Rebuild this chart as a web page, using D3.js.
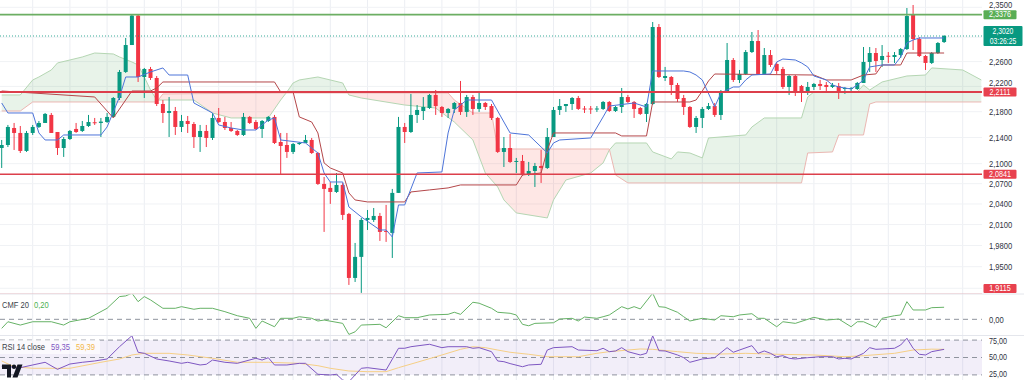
<!DOCTYPE html>
<html><head><meta charset="utf-8">
<script src="https://cdn.jsdelivr.net/npm/d3@7"></script>
<style>html,body{margin:0;padding:0;background:#fff;}svg{display:block;font-family:"Liberation Sans",Arial,sans-serif;}</style>
</head><body><svg id="c" width="1024" height="380"></svg>
<script>
// ---------- DATA ----------
const opens=[2.1238,2.1284,2.1546,2.1469,2.1193,2.1469,2.1562,2.1624,2.1749,2.1484,
2.1238,2.1376,2.1531,2.1500,2.1577,2.1635,2.1624,2.1639,2.1718,2.2016,
2.2432,2.2871,2.3360,2.2351,2.2480,2.2335,2.1921,2.1780,2.1811,2.1562,
2.1655,2.1608,2.1407,2.1500,2.1392,2.1702,2.1639,2.1546,2.1500,2.1438,
2.1718,2.1639,2.1531,2.1655,2.1718,2.1330,2.1284,2.1178,2.1299,2.1315,
2.1361,2.1162,2.0696,2.0637,2.0577,2.0681,2.0254,1.9343,1.9638,2.0167,
2.0167,2.0225,2.0008,1.9980,2.0563,2.1562,2.1484,2.1749,2.1811,2.1858,
2.2064,2.1874,2.1780,2.1843,2.1937,2.1796,2.2031,2.1843,2.1937,2.1889,
2.1702,2.1178,2.1238,2.1026,2.1041,2.0845,2.0890,2.0965,2.0935,2.1407,
2.1827,2.1889,2.1921,2.2016,2.1850,2.1850,2.1843,2.1843,2.1953,2.1811,
2.1874,2.2031,2.1953,2.1858,2.1765,2.1921,2.3169,2.2335,2.2351,2.2223,
2.2016,2.1874,2.1562,2.1702,2.1843,2.1889,2.1749,2.2096,2.2626,2.2303,
2.2400,2.2756,2.2937,2.2400,2.2707,2.2561,2.2480,2.2191,2.2367,2.2207,
2.2096,2.2191,2.2239,2.2223,2.2191,2.2207,2.2159,2.2159,2.2159,2.2255,
2.2594,2.2740,2.2626,2.2695,2.2675,2.2707,2.2805,2.3370,2.2970,2.2691,
2.2578,2.2740,2.2920];
const highs=[2.1361,2.1593,2.1624,2.1577,2.1500,2.1593,2.1655,2.1780,2.1780,2.1484,
2.1407,2.1515,2.1624,2.1655,2.1749,2.1702,2.1702,2.1780,2.2031,2.2464,
2.2987,2.3376,2.3376,2.2497,2.2513,2.2367,2.1984,2.2031,2.1874,2.1749,
2.1733,2.1639,2.1593,2.1593,2.1780,2.1858,2.1718,2.1639,2.1515,2.1780,
2.1733,2.1670,2.1670,2.1733,2.1749,2.1469,2.1469,2.1315,2.1330,2.1438,
2.1392,2.1178,2.0800,2.0725,2.0860,2.0711,2.0269,1.9836,2.0196,2.0312,
2.0341,2.0269,2.0386,2.0622,2.1718,2.1624,2.2080,2.1905,2.2031,2.2080,
2.2143,2.1889,2.1858,2.1953,2.2287,2.2064,2.2064,2.2096,2.1953,2.1921,
2.1718,2.1407,2.1453,2.1087,2.1132,2.1026,2.1011,2.1208,2.1546,2.1874,
2.2000,2.1921,2.2031,2.2048,2.1889,2.1889,2.1889,2.1968,2.1968,2.1889,
2.2175,2.2064,2.1968,2.1874,2.1937,2.3253,2.3219,2.2513,2.2367,2.2255,
2.2064,2.1889,2.1733,2.1874,2.1937,2.1937,2.2143,2.2904,2.2658,2.2464,
2.2789,2.3086,2.3119,2.2822,2.2789,2.2594,2.2513,2.2383,2.2383,2.2223,
2.2271,2.2255,2.2303,2.2271,2.2255,2.2255,2.2191,2.2191,2.2271,2.2838,
2.2838,2.2822,2.2871,2.2756,2.2756,2.2822,2.3488,2.3539,2.3003,2.2707,
2.2756,2.2920,2.3036];
const lows=[2.0935,2.1253,2.1208,2.1162,2.1178,2.1438,2.1546,2.1624,2.1469,2.1132,
2.1102,2.1361,2.1469,2.1484,2.1562,2.1593,2.1407,2.1624,2.1718,2.1984,
2.2416,2.2871,2.2271,2.2016,2.2303,2.1889,2.1624,2.1407,2.1438,2.1484,
2.1469,2.1238,2.1178,2.1253,2.1361,2.1624,2.1515,2.1484,2.1423,2.1423,
2.1608,2.1515,2.1392,2.1639,2.1299,2.0845,2.1087,2.1147,2.1284,2.1315,
2.1147,2.0681,1.9994,2.0401,2.0563,2.0167,1.9246,1.9287,1.9136,2.0022,
2.0138,1.9865,1.9851,1.9623,2.0563,2.1315,2.1469,2.1624,2.1670,2.1843,
2.1749,2.1718,2.1702,2.1780,2.1749,2.1718,2.1749,2.1796,2.1827,2.1670,
2.1162,2.0950,2.1011,2.0860,2.0815,2.0815,2.0651,2.0711,2.0920,2.1407,
2.1749,2.1796,2.1827,2.1827,2.1780,2.1765,2.1796,2.1827,2.1796,2.1796,
2.1780,2.1937,2.1702,2.1749,2.1639,2.1905,2.2335,2.2287,2.2064,2.1953,
2.1749,2.1546,2.1469,2.1546,2.1827,2.1718,2.1670,2.2096,2.2271,2.2255,
2.2383,2.2740,2.2383,2.2383,2.2513,2.2400,2.2159,2.2064,2.2048,2.1953,
2.2064,2.2143,2.2143,2.2096,2.2175,2.2000,2.2080,2.2096,2.2143,2.2255,
2.2432,2.2432,2.2513,2.2578,2.2578,2.2658,2.2789,2.2789,2.2675,2.2464,
2.2561,2.2724,2.2904];
const closes=[2.1284,2.1562,2.1469,2.1193,2.1469,2.1562,2.1624,2.1765,2.1469,2.1238,
2.1376,2.1500,2.1484,2.1577,2.1639,2.1630,2.1645,2.1718,2.2016,2.2432,
2.2871,2.3360,2.2351,2.2480,2.2335,2.1921,2.1780,2.1811,2.1562,2.1655,
2.1608,2.1407,2.1500,2.1392,2.1702,2.1639,2.1546,2.1500,2.1438,2.1718,
2.1624,2.1531,2.1655,2.1718,2.1315,2.1269,2.1178,2.1299,2.1315,2.1361,
2.1162,2.0696,2.0622,2.0577,2.0681,2.0240,1.9343,1.9638,2.0167,2.0196,
2.0225,1.9994,1.9994,2.0563,2.1562,2.1484,2.1749,2.1827,2.1874,2.2064,
2.1889,2.1780,2.1843,2.1937,2.1796,2.2031,2.1843,2.1937,2.1874,2.1702,
2.1178,2.1238,2.1026,2.1041,2.0830,2.0890,2.0965,2.0935,2.1407,2.1827,
2.1889,2.1921,2.2016,2.1843,2.1843,2.1843,2.1850,2.1953,2.1811,2.1874,
2.2031,2.1953,2.1843,2.1765,2.1921,2.3169,2.2351,2.2367,2.2223,2.2000,
2.1874,2.1562,2.1702,2.1843,2.1889,2.1749,2.2096,2.2626,2.2303,2.2400,
2.2756,2.2937,2.2400,2.2707,2.2545,2.2448,2.2191,2.2367,2.2127,2.2112,
2.2191,2.2239,2.2207,2.2191,2.2223,2.2112,2.2175,2.2175,2.2255,2.2594,
2.2740,2.2610,2.2691,2.2691,2.2707,2.2805,2.3353,2.2970,2.2691,2.2578,
2.2740,2.2904,2.3020];

// Ichimoku lines: [bar index, price]
const tenkan=[[0,2.1937],[1,2.1780],[5,2.1780],[6,2.1469],[7,2.1361],[9,2.1361],[10,2.1438],[16,2.1438],[17,2.1562],[19,2.2032],[20,2.2351],[22,2.2351],[24,2.2432],[26,2.2497],[27,2.2383],[30,2.2383],[31,2.1937],[34,2.1780],[35,2.1593],[37,2.1546],[39,2.1515],[41,2.1515],[42,2.1593],[43,2.1670],[44,2.1702],[45,2.1361],[49,2.1315],[51,2.1162],[52,2.0860],[53,2.0725],[55,2.0725],[56,2.0356],[58,2.0211],[61,2.0022],[62,2.0022],[63,1.9922],[64,2.0386],[65,2.0386],[67,2.0860],[71,2.0875],[72,2.1469],[73,2.1827],[75,2.1984],[79,2.1984],[81,2.1639],[82,2.1469],[85,2.1438],[87,2.1254],[88,2.1162],[89,2.1315],[90,2.1361],[95,2.1392],[97,2.1718],[98,2.1889],[102,2.1937],[104,2.1874],[105,2.2448],[110,2.2448],[111,2.2432],[112,2.2383],[113,2.2303],[115,2.1874],[116,2.2096],[118,2.2191],[119,2.2191],[120,2.2303],[121,2.2383],[124,2.2400],[125,2.2594],[126,2.2642],[128,2.2626],[129,2.2578],[130,2.2513],[131,2.2367],[133,2.2303],[134,2.2223],[135,2.2191],[137,2.2159],[138,2.2223],[139,2.2303],[140,2.2513],[142,2.2545],[144,2.2545],[145,2.2675],[146,2.2904],[147,2.2954],[148,2.2987],[152,2.2987]];
const kijun=[[0,2.2127],[15,2.2032],[18,2.1702],[21,2.2127],[24,2.2127],[25,2.2175],[26,2.2271],[44,2.2271],[45,2.2111],[47,2.2111],[48,2.1718],[50,2.1639],[51,2.1469],[52,2.1011],[53,2.0935],[55,2.0860],[56,2.0563],[57,2.0459],[59,2.0430],[65,2.0430],[66,2.0577],[69,2.0607],[72,2.0637],[74,2.0681],[83,2.0681],[84,2.0830],[87,2.0860],[88,2.1208],[89,2.1469],[99,2.1469],[100,2.1423],[104,2.1423],[105,2.1953],[111,2.1953],[112,2.1984],[113,2.2127],[114,2.2287],[115,2.2399],[131,2.2383],[133,2.2303],[137,2.2303],[139,2.2383],[141,2.2400],[142,2.2545],[145,2.2545],[146,2.2740],[152,2.2740]];
const spanA=[[0,2.2064],[3,2.2064],[5,2.2303],[6,2.2351],[8,2.2464],[9,2.2578],[11,2.2626],[13,2.2675],[15,2.2740],[18,2.2724],[19,2.2675],[21,2.2594],[22,2.2545],[23,2.2351],[24,2.2143],[25,2.1984],[31,2.1984],[34,2.1780],[37,2.1702],[43,2.1702],[45,2.1984],[46,2.2111],[47,2.2255],[48,2.2303],[51,2.2351],[53,2.2303],[55,2.2255],[56,2.2064],[58,2.2016],[65,2.1905],[70,2.1858],[73,2.1639],[76,2.1361],[78,2.0860],[80,2.0651],[81,2.0459],[83,2.0269],[88,2.0196],[89,2.0459],[91,2.0755],[95,2.0860],[97,2.1011],[98,2.1208],[99,2.1315],[104,2.1315],[105,2.1178],[108,2.1071],[109,2.1178],[111,2.1162],[113,2.1087],[114,2.1392],[120,2.1438],[121,2.1562],[123,2.1702],[129,2.1702],[130,2.2032],[131,2.2111],[138,2.2111],[139,2.2223],[140,2.2143],[142,2.2271],[146,2.2367],[149,2.2383],[150,2.2497],[155,2.2464],[158,2.2303]];
const spanB=[[0,2.1811],[3,2.1811],[5,2.1953],[25,2.1953],[26,2.2080],[45,2.2096],[72,2.2096],[73,2.1984],[76,2.1780],[79,2.1780],[80,2.1223],[98,2.1223],[99,2.0830],[101,2.0711],[129,2.0711],[130,2.1162],[134,2.1178],[135,2.1438],[139,2.1438],[140,2.1921],[141,2.1953],[158,2.1953]];

const cmf=[[0,-0.15],[1,-0.04],[3,-0.095],[5,-0.04],[8,-0.04],[10,-0.095],[11,-0.04],[14,0.017],[17,0.183],[19,0.377],[20,0.388],[21,0.433],[22,0.293],[23,0.377],[24,0.322],[26,0.183],[28,0.183],[29,0.21],[31,0.167],[32,0.183],[34,0.183],[36,0.127],[38,0.06],[40,0.017],[41,-0.15],[42,-0.028],[44,-0.123],[45,0.017],[47,0.017],[48,0.043],[50,0.017],[51,-0.028],[52,-0.012],[55,-0.067],[56,-0.25],[57,-0.207],[58,-0.095],[61,-0.083],[62,-0.14],[64,0.06],[65,0.027],[67,0.027],[69,0.072],[72,0.083],[73,0.117],[74,0.083],[76,0.283],[77,0.267],[79,0.183],[80,0.117],[82,0.1],[83,0.072],[84,-0.083],[85,-0.107],[86,-0.067],[89,-0.057],[90,0.005],[92,0.017],[93,-0.028],[94,0.038],[96,0.017],[97,0.043],[98,0.072],[100,0.21],[101,0.172],[102,0.21],[103,0.172],[105,0.433],[106,0.21],[107,0.2],[109,0.117],[110,0.043],[111,-0.028],[113,0.017],[115,-0.012],[116,0.06],[118,0.043],[119,0.072],[121,0.093],[122,0.017],[123,0.017],[125,-0.123],[126,-0.04],[128,-0.067],[131,0.033],[133,-0.012],[135,0.005],[137,-0.123],[138,-0.04],[139,-0.04],[141,-0.133],[142,0.017],[144,0.06],[145,0.072],[146,0.293],[147,0.155],[149,0.155],[150,0.193],[152,0.2]];
const rsi=[[0,40],[3,38.3],[5,41.4],[7,44.5],[9,36.4],[11,42.5],[13,44.5],[15,46],[17,48.3],[19,62.4],[21,75],[22,56],[23,54.8],[25,48.3],[27,46],[29,43.3],[30,44.5],[32,41.4],[33,42.2],[34,47.1],[36,44.5],[38,43.3],[41,49.1],[42,47.1],[43,49.8],[44,41.4],[46,41.4],[48,43.3],[49,43.3],[51,30.7],[53,29.9],[54,30.7],[55,24.1],[56,22.2],[58,37.6],[59,38.3],[62,35.6],[64,60.6],[65,60.6],[66,62.4],[69,65.2],[71,61.3],[72,62.4],[75,62.4],[76,60.6],[77,61.3],[79,56.7],[80,46],[81,45.2],[82,43],[84,39.4],[85,41.4],[87,42.2],[88,58.6],[89,61.3],[92,62.4],[93,58.6],[96,57.8],[97,60.6],[98,56.7],[99,57.5],[100,61.3],[101,56.7],[103,52.9],[104,54.8],[105,75],[106,57.8],[107,57.5],[109,52.9],[110,49.8],[111,44.5],[113,48.3],[115,49.8],[117,61.3],[118,56],[119,58.6],[121,63.6],[122,54.8],[123,57.5],[124,54.8],[125,50.9],[126,52.1],[127,49.1],[128,48.3],[130,49.8],[132,50.9],[134,50.9],[135,48.3],[136,49.1],[137,48.3],[139,54.8],[140,61.3],[141,59.4],[142,59.8],[144,60.6],[145,64.4],[146,72.1],[147,60.6],[148,53.7],[149,52.9],[150,56.7],[152,59.35]];
const rsiMA=[[0,46],[2,39.4],[5,37.6],[11,37.6],[16,44.5],[19,48.3],[21,52.9],[23,54.8],[27,54.8],[30,52.9],[34,49.1],[38,44.5],[43,44.5],[48,43.3],[51,40.6],[53,37.6],[56,34.5],[59,33.7],[62,33.7],[64,38.3],[67,44.5],[71,52.9],[74,59.4],[76,62.4],[78,61.3],[80,58.6],[82,56],[85,53.7],[88,50.9],[93,50.9],[96,54.8],[98,56.7],[103,59.8],[105,59.4],[109,56.7],[112,54.8],[116,54],[120,54.8],[125,53.7],[131,52.9],[136,50.9],[139,52.1],[144,54.8],[147,58.6],[150,59.6],[152,59.39]];

const gridTicks=[2.35,2.30,2.26,2.22,2.18,2.14,2.10,2.07,2.04,2.01,1.98,1.95,1.92];
const priceTicks=[2.35,2.26,2.22,2.18,2.14,2.10,2.07,2.04,2.01,1.98,1.95];
const levelsRed=[2.2111,2.0841,1.9115];
const levelGreen=2.3376;
const lastPrice=2.3020, countdown="03:26:25";
const cmfLabel="CMF 20", cmfValue="0,20";
const rsiLabel="RSI 14 close", rsiValue="59,35", rsiMAValue="59,39";
const rsiTicks=[75,50,25];

// ---------- CHART ----------
const W=1024,H=380,PW=982;
const MAIN_B=293.5;
const svg=d3.select('#c');
const x=d3.scaleLinear().domain([0,152]).range([1.7,944.1]);
const y=d3.scaleLog().domain([1.95,2.35]).range([266.7,7.3]);
const yC=d3.scaleLinear().domain([-0.26,0.42]).range([335,294]);
const yR=d3.scaleLinear().domain([25,75]).range([379.25,335.75]);
const fmt4=d=>d.toFixed(4).replace('.',',');
const fmt2=d=>d.toFixed(2).replace('.',',');
const GREEN='#089981',RED='#f23645';

const defs=svg.append('defs');
function clip(id,x0,y0,w,h){defs.append('clipPath').attr('id',id).append('rect').attr('x',x0).attr('y',y0).attr('width',w).attr('height',h);}
clip('cMain',0,0,PW,MAIN_B);clip('cCmf',0,294.5,PW,41);clip('cRsi',0,336,PW,44);

function txt(g,x0,y0,s,fill,anchor,fs){
  return g.append('text').attr('transform',`translate(${x0},${y0}) scale(0.8,1)`)
   .attr('font-size',fs||9.5).attr('fill',fill).attr('text-anchor',anchor||'start')
   .attr('dominant-baseline','central').text(s);
}

// grid
const grid=svg.append('g');
grid.selectAll('line.v').data(d3.range(5,159,6)).join('line')
  .attr('x1',d=>x(d)).attr('x2',d=>x(d)).attr('y1',0).attr('y2',H)
  .attr('stroke','#eceef3').attr('stroke-width',1);
grid.selectAll('line.h').data(gridTicks).join('line')
  .attr('x1',0).attr('x2',PW).attr('y1',d=>y(d)).attr('y2',d=>y(d))
  .attr('stroke','#f0f2f5').attr('stroke-width',1);
[294,335.5].forEach(v=>svg.append('line').attr('x1',0).attr('x2',W).attr('y1',v).attr('y2',v).attr('stroke','#e4e6ec'));

// main pane
const main=svg.append('g').attr('clip-path','url(#cMain)');
function interp(pts,t){
  if(t<=pts[0][0])return pts[0][1];
  for(let i=1;i<pts.length;i++){if(t<=pts[i][0]){const[x0,v0]=pts[i-1],[x1,v1]=pts[i];return v0+(v1-v0)*(t-x0)/(x1-x0);}}
  return pts[pts.length-1][1];
}
const idxs=Array.from(new Set(spanA.map(d=>d[0]).concat(spanB.map(d=>d[0])))).sort((a,b)=>a-b);
const pts=idxs.map(i=>({i,a:interp(spanA,i),b:interp(spanB,i)}));
const segs=[];let cur=[pts[0]];
for(let k=1;k<pts.length;k++){
  const p=pts[k-1],q=pts[k];const dp=p.a-p.b,dq=q.a-q.b;
  if(dp*dq<0){const t=dp/(dp-dq);const c={i:p.i+t*(q.i-p.i),a:p.a+t*(q.a-p.a)};c.b=c.a;cur.push(c);segs.push(cur);cur=[c,q];}
  else cur.push(q);
}
segs.push(cur);
const area=d3.area().x(d=>x(d.i)).y0(d=>y(d.a)).y1(d=>y(d.b));
segs.forEach(s=>{
  const m=d3.mean(s,d=>d.a-d.b);
  main.append('path').attr('d',area(s)).attr('fill',m>=0?'rgba(67,160,71,0.12)':'rgba(244,67,54,0.13)');
});
const ln=d3.line().x(d=>x(d[0])).y(d=>y(d[1]));
main.append('path').attr('d',ln(spanA)).attr('fill','none').attr('stroke','#b5d6b3').attr('stroke-width',1);
main.append('path').attr('d',ln(spanB)).attr('fill','none').attr('stroke','#ebb7b2').attr('stroke-width',1);

// candles
const candles=opens.map((o,i)=>({i,o,h:highs[i],l:lows[i],c:closes[i]}));
const cg=main.append('g');
cg.selectAll('line').data(candles).join('line')
  .attr('x1',d=>x(d.i)).attr('x2',d=>x(d.i)).attr('y1',d=>y(d.h)).attr('y2',d=>y(d.l))
  .attr('stroke',d=>d.c>=d.o?GREEN:RED).attr('stroke-width',1);
cg.selectAll('rect').data(candles).join('rect')
  .attr('x',d=>x(d.i)-2).attr('width',4)
  .attr('y',d=>Math.min(y(d.o),y(d.c)))
  .attr('height',d=>Math.max(1,Math.abs(y(d.o)-y(d.c))))
  .attr('fill',d=>d.c>=d.o?GREEN:RED);

main.append('path').attr('d',ln(kijun)).attr('fill','none').attr('stroke','#b4474a').attr('stroke-width',1);
main.append('path').attr('d',ln(tenkan)).attr('fill','none').attr('stroke','#4d74d9').attr('stroke-width',1);

// levels
main.append('line').attr('x1',0).attr('x2',PW).attr('y1',y(levelGreen)).attr('y2',y(levelGreen)).attr('stroke','#6cae63').attr('stroke-width',1.7);
main.selectAll('line.lv').data(levelsRed).join('line').attr('class','lv')
  .attr('x1',0).attr('x2',PW).attr('y1',d=>y(d)).attr('y2',d=>y(d))
  .attr('stroke','#dc3f4b').attr('stroke-width',(d,i)=>i===0?2:1.4);
main.append('line').attr('x1',0).attr('x2',PW).attr('y1',y(lastPrice)).attr('y2',y(lastPrice))
  .attr('stroke',GREEN).attr('stroke-width',1).attr('stroke-dasharray','1,2').attr('opacity',0.8);

// label boxes (computed first so tick labels can avoid them)
const boxes=[];
function boxSpec(cy,lines,bg,w){
  const h=lines.length>1?20:9;
  const top=Math.min(Math.max(cy-h/2,0),MAIN_B-h-0.5);
  boxes.push({top,h,lines,bg,w:w||33});
}
boxSpec(y(levelGreen),[fmt4(levelGreen)],'#5aae55');
boxSpec(y(lastPrice),[fmt4(lastPrice),countdown],GREEN,39);
levelsRed.forEach(v=>boxSpec(y(v),[fmt4(v)],'#e8414e'));

// price axis
const ax=svg.append('g').attr('transform',`translate(${PW},0)`)
  .call(d3.axisRight(y).tickValues(priceTicks).tickSize(0).tickFormat(fmt4));
ax.select('.domain').remove();
ax.selectAll('.tick').attr('transform',d=>{
  let cy=y(d);
  boxes.forEach(b=>{ if(cy+5>b.top && cy-5<b.top+b.h){ cy = (cy< b.top+b.h/2) ? b.top-5.2 : b.top+b.h+5.2; } });
  return `translate(0,${cy})`;
});
ax.selectAll('text').attr('x',null).attr('dy',null).attr('dominant-baseline','central')
  .attr('transform','translate(7,0) scale(0.8,1)').attr('font-size',9.5)
  .attr('font-family','"Liberation Sans",Arial,sans-serif').attr('fill','#2f3341');

boxes.forEach(b=>{
  svg.append('rect').attr('x',PW+1.5).attr('y',b.top).attr('width',b.w).attr('height',b.h).attr('fill',b.bg).attr('rx',1);
  if(b.lines.length>1){
    txt(svg,PW+1.5+b.w/2,b.top+5.2,b.lines[0],'#fff','middle',8.5);
    txt(svg,PW+1.5+b.w/2,b.top+14.8,b.lines[1],'#fff','middle',8.5);
  } else txt(svg,PW+1.5+b.w/2,b.top+b.h/2,b.lines[0],'#fff','middle',9);
});

// CMF pane
const cmfG=svg.append('g').attr('clip-path','url(#cCmf)');
cmfG.append('line').attr('x1',0).attr('x2',PW).attr('y1',yC(0)).attr('y2',yC(0))
  .attr('stroke','#8f939e').attr('stroke-dasharray','5,4').attr('stroke-width',1);
const lnC=d3.line().x(d=>x(d[0])).y(d=>yC(d[1]));
cmfG.append('path').attr('d',lnC(cmf)).attr('fill','none').attr('stroke','#66b266').attr('stroke-width',1);
txt(svg,2,305,cmfLabel,'#3b3f4a');
txt(svg,34,305,cmfValue,'#4caf50');
txt(svg,PW+7,yC(0),fmt2(0),'#2f3341');

// RSI pane
const rG=svg.append('g').attr('clip-path','url(#cRsi)');
rG.append('rect').attr('x',0).attr('width',PW).attr('y',yR(70)).attr('height',yR(30)-yR(70)).attr('fill','rgba(126,87,194,0.1)');
[70,50,30].forEach(v=>rG.append('line').attr('x1',0).attr('x2',PW).attr('y1',yR(v)).attr('y2',yR(v))
  .attr('stroke','#8f939e').attr('stroke-dasharray','5,4').attr('stroke-width',1));
const lnR=d3.line().x(d=>x(d[0])).y(d=>yR(d[1]));
rG.append('path').attr('d',lnR(rsiMA)).attr('fill','none').attr('stroke','#f6cf85').attr('stroke-width',1);
rG.append('path').attr('d',lnR(rsi)).attr('fill','none').attr('stroke','#7e57c2').attr('stroke-width',1);
// RSI axis labels, kept inside the pane
rsiTicks.forEach(v=>{
  const cy=Math.min(Math.max(yR(v),341),374.5);
  txt(svg,PW+7,cy,fmt2(v),'#2f3341',null,9);
});
svg.append('rect').attr('x',0).attr('y',340).attr('width',100).attr('height',14).attr('fill','#fff').attr('opacity',0.65);
txt(svg,2,347,rsiLabel,'#3b3f4a');
txt(svg,51,347,rsiValue,'#7e57c2');
txt(svg,76,347,rsiMAValue,'#f2b84b');

// TradingView logo
const logo=svg.append('g').attr('fill','#131722');
logo.append('path').attr('d','M2,364.5 h9 v13 h-4 v-8.5 h-5 z');
logo.append('circle').attr('cx',14).attr('cy',366.8).attr('r',2.2);
logo.append('path').attr('d','M17.5,364.5 h5 l-5,13 h-5 z');
</script></body></html>
